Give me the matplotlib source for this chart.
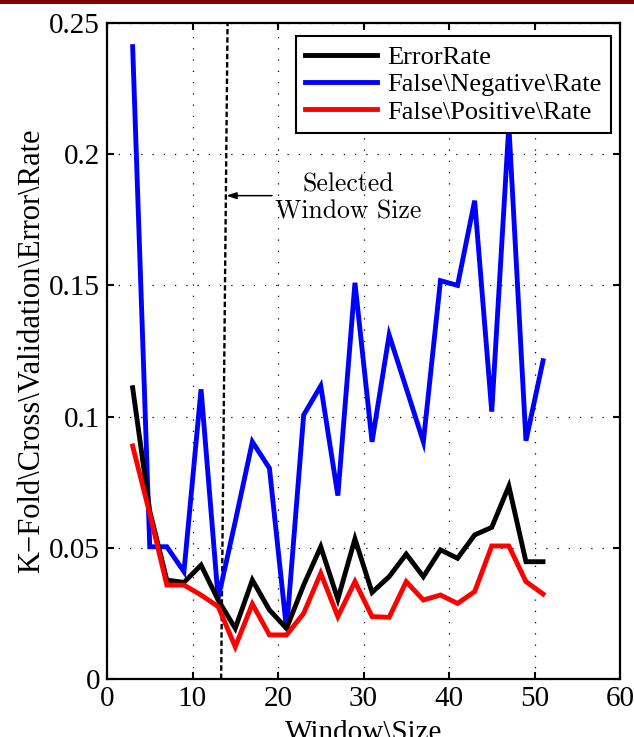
import matplotlib
matplotlib.use("Agg")
import matplotlib.pyplot as plt
from matplotlib.patches import Rectangle

# ---- data ----
window_sizes = [3, 5, 7, 9, 11, 13, 15, 17, 19, 21, 23, 25, 27, 29, 31, 33, 35,
                37, 39, 41, 43, 45, 47, 49, 51]
error_rate = [0.111, 0.064, 0.0377, 0.0368, 0.0434, 0.0301, 0.0193, 0.0377, 0.0263,
              0.0193, 0.0358, 0.0504, 0.0304, 0.0534, 0.0330, 0.0390, 0.0476, 0.0390,
              0.0492, 0.0460, 0.0549, 0.0578, 0.0735, 0.0447, 0.0447]
false_negative_rate = [0.241, 0.0504, 0.0504, 0.0409, 0.1104, 0.0307, 0.0600, 0.0904,
                       0.0803, 0.0189, 0.1006, 0.1117, 0.0699, 0.1510, 0.0904, 0.1311,
                       0.1108, 0.0904, 0.1518, 0.1500, 0.1823, 0.1019, 0.2110, 0.0908,
                       0.1213]
false_positive_rate = [0.0888, 0.063, 0.0358, 0.0358, 0.0320, 0.0276, 0.0123, 0.0286,
                       0.0168, 0.0168, 0.0250, 0.0403, 0.0238, 0.0371, 0.0238, 0.0235,
                       0.0371, 0.0301, 0.0320, 0.0288, 0.0333, 0.0507, 0.0507, 0.0371,
                       0.0324]
series_labels = ["ErrorRate", "False\\Negative\\Rate", "False\\Positive\\Rate"]
selected_line_x = [13.35, 14.1]
selected_line_y = [0.0, 0.25]
xticks = [0, 10, 20, 30, 40, 50, 60]
yticks = [0, 0.05, 0.1, 0.15, 0.2, 0.25]
ytick_labels = ["0", "0.05", "0.1", "0.15", "0.2", "0.25"]

serif = ["Liberation Serif", "DejaVu Serif"]
plt.rcParams["font.family"] = serif

fig = plt.figure(figsize=(6.34, 7.37), dpi=100)
ax = fig.add_axes([107 / 634, 1 - 679 / 737, (620 - 107) / 634, (679 - 23) / 737])

# top maroon bar
fig.patches.append(Rectangle((0, 1 - 4 / 737), 1, 4 / 737, transform=fig.transFigure,
                             facecolor="#7f0000", edgecolor="none", zorder=10))

lw = 3.5
l_fnr, = ax.plot(window_sizes, false_negative_rate, color=(0, 0, 1), lw=lw,
                 solid_joinstyle="miter", label=series_labels[1], zorder=3)
l_er, = ax.plot(window_sizes, error_rate, color="black", lw=lw,
                solid_joinstyle="miter", label=series_labels[0], zorder=4)
l_fpr, = ax.plot(window_sizes, false_positive_rate, color=(1, 0, 0), lw=lw,
                 solid_joinstyle="miter", label=series_labels[2], zorder=5)

ax.plot(selected_line_x, selected_line_y, color="black", lw=1.7,
        linestyle=(0, (2.3, 1.2)), zorder=2)

ax.annotate("", xy=(13.95, 0.1842), xytext=(19.3, 0.1842),
            arrowprops=dict(arrowstyle="-|>,head_length=0.6,head_width=0.2",
                            color="black", lw=1.1, shrinkA=0, shrinkB=0))
ax.text(28.2, 0.1833, "Selected\nWindow Size", ha="center", va="center",
        fontsize=18.5, family=["cmr10", "DejaVu Serif"], linespacing=1.15)

ax.set_xlim(0, 60)
ax.set_ylim(0, 0.25)
ax.set_xticks(xticks)
ax.set_xticklabels([str(t) for t in xticks])
ax.set_yticks(yticks)
ax.set_yticklabels(ytick_labels)
ax.grid(True, color="black", linestyle=(0, (1, 8)), lw=0.9)
ax.tick_params(direction="in", top=True, right=True, length=5, width=1.5,
               labelsize=21, pad=5)
for s in ax.spines.values():
    s.set_linewidth(1.6)

ax.set_xlabel("Window\\Size", fontsize=21, labelpad=6)
ax.set_ylabel("K\u2212Fold\\Cross\\Validation\\Error\\Rate", fontsize=22, labelpad=2)

leg = ax.legend(handles=[l_er, l_fnr, l_fpr], loc="upper right",
                bbox_to_anchor=(0.982, 0.980), borderaxespad=0, fontsize=19,
                handlelength=2.7, handletextpad=0.4, labelspacing=0.15,
                borderpad=0.35, fancybox=False, framealpha=1, edgecolor="black")
leg.get_frame().set_linewidth(1.5)

fig.savefig("out.png", dpi=100)
